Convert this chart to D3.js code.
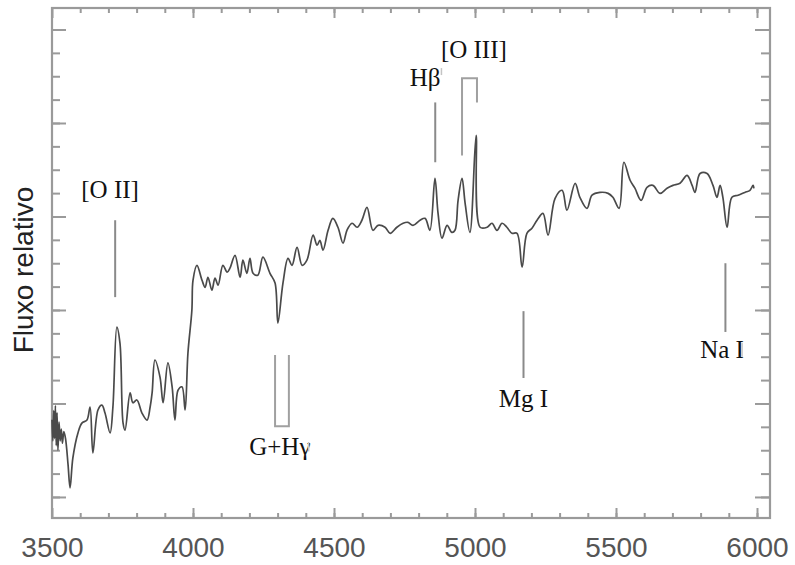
<!DOCTYPE html>
<html><head><meta charset="utf-8">
<script src="https://cdn.jsdelivr.net/npm/d3@7"></script>
<style>
html,body{margin:0;padding:0;background:#fff;}
svg{display:block;}
</style></head>
<body>
<svg id="chart" width="795" height="565"></svg>
<script>
// ---- data ----
const wavelength = [3500,3503,3506,3509,3512,3515,3518,3521,3525,3529,3533,3537,3542,3548,3557,3564,3574,3592,3606,3624,3635,3645,3663,3677,3688,3706,3716,3730,3741,3752,3759,3777,3787,3801,3819,3837,3848,3855,3865,3883,3894,3911,3926,3936,3947,3961,3972,3982,3996,4000,4014,4032,4043,4053,4067,4078,4089,4106,4121,4131,4149,4167,4177,4191,4202,4213,4230,4248,4273,4291,4301,4319,4337,4351,4369,4387,4404,4426,4440,4450,4461,4479,4496,4514,4532,4546,4564,4582,4599,4617,4638,4656,4681,4699,4723,4745,4762,4780,4805,4823,4840,4858,4869,4883,4901,4918,4929,4940,4954,4965,4982,5004,5018,5043,5060,5078,5096,5113,5131,5149,5167,5184,5202,5220,5241,5259,5284,5309,5326,5355,5372,5397,5415,5443,5472,5489,5511,5528,5550,5567,5589,5610,5631,5656,5681,5702,5727,5752,5770,5780,5798,5823,5844,5858,5869,5879,5894,5911,5933,5957,5975,5986,5989];
const flux = [4.3,3.4,4.7,3.5,4.9,3.2,4.6,3.0,4.2,3.4,3.9,3.3,3.8,3.5,2.37,1.39,2.67,3.74,4.16,4.29,4.85,2.88,4.72,4.93,4.59,3.74,4.85,8.27,7.58,4.16,3.86,5.45,5.03,5.15,4.59,4.29,4.85,5.45,6.86,6.13,5.03,6.74,5.71,4.29,5.57,5.71,4.72,7.15,8.99,10.27,10.91,10.27,9.97,10.40,9.85,10.36,10.06,10.91,10.62,10.79,11.34,10.40,11.13,10.57,11.21,10.57,10.49,11.26,10.57,10.15,8.44,10.15,11.21,10.91,11.68,10.91,11.13,12.20,11.77,11.98,11.56,12.41,12.92,12.54,11.86,12.41,12.71,12.54,12.84,13.39,12.41,12.62,12.54,12.28,12.54,12.71,12.75,12.62,12.84,12.92,12.41,14.63,13.13,12.07,12.62,12.32,12.41,13.69,14.63,13.56,12.32,16.47,12.54,12.54,12.71,12.41,12.71,12.54,12.28,12.28,10.83,12.28,12.50,12.84,13.13,12.20,13.78,14.12,13.27,14.42,13.82,13.35,13.91,14.03,13.99,13.82,13.35,15.32,14.55,14.21,13.69,14.25,14.33,13.99,14.21,14.33,14.42,14.76,14.33,14.03,14.84,14.84,14.33,13.82,14.33,13.82,12.54,13.82,13.91,14.03,14.12,14.33,14.2];
const xTickLabels = [3500,4000,4500,5000,5500,6000];
const xMinorTicks = d3.range(3600, 6001, 100);
const yMinorTicks = d3.range(1, 22, 1);
const yMajorTicks = [1,5,9,13,17,21];
const yAxisTitle = "Fluxo relativo";
// single-line markers: label, wavelength of line, flux range of line, label wavelength, label flux
const lineMarks = [
  {label:"[O II]", wl:3724, f0:9.55, f1:12.84, lwl:3706, lf:13.78},
  {label:"Hβ",     wl:4859, f0:15.32, f1:17.88, lwl:4823, lf:18.60},
  {label:"Mg I",   wl:5172, f0:6.09, f1:8.95, lwl:5172, lf:4.85},
  {label:"Na I",   wl:5888, f0:8.06, f1:11.0, lwl:5876, lf:6.94}
];
// bracket markers
const bracketMarks = [
  {label:"[O III]", wl0:4954, wl1:5007, fJoin:18.91, f0:15.61, f1:17.88, lwl:4996, lf:19.80},
  {label:"G+Hγ",   wl0:4291, wl1:4340, fJoin:4.03, f0:7.07, f1:7.07, lwl:4308, lf:2.80}
];
// faint scan specks next to some labels: wavelength, flux top, flux bottom
const specks = [
  {wl:4881, f0:19.05, f1:19.35},
  {wl:4410, f0:2.95, f1:3.35},
  {wl:5947, f0:7.0, f1:7.6}
];

// ---- drawing ----
const svg = d3.select("#chart");
const L=52, R=770, T=8, B=518;
const x = d3.scaleLinear().domain([3500, 3500 + (R-L)*500/141]).range([L, R]);
const y = d3.scaleLinear().domain([0.1, 21.92]).range([B, T]);
const frameCol = "#9a9a9a";

// axes: bottom
const bMinor = svg.append("g").attr("transform",`translate(0,${B})`)
  .call(d3.axisBottom(x).tickValues(xMinorTicks).tickSize(-5).tickFormat(""));
const bMajor = svg.append("g").attr("transform",`translate(0,${B})`)
  .call(d3.axisBottom(x).tickValues(xTickLabels).tickSize(-10).tickPadding(19).tickFormat(d3.format("d")));
// top
svg.append("g").attr("transform",`translate(0,${T})`)
  .call(d3.axisTop(x).tickValues(xMinorTicks).tickSize(-5).tickFormat(""));
svg.append("g").attr("transform",`translate(0,${T})`)
  .call(d3.axisTop(x).tickValues(xTickLabels).tickSize(-10).tickFormat(""));
// left
svg.append("g").attr("transform",`translate(${L},0)`)
  .call(d3.axisLeft(y).tickValues(yMinorTicks).tickSize(-8).tickFormat(""));
svg.append("g").attr("transform",`translate(${L},0)`)
  .call(d3.axisLeft(y).tickValues(yMajorTicks).tickSize(-14).tickFormat(""));
// right
svg.append("g").attr("transform",`translate(${R},0)`)
  .call(d3.axisRight(y).tickValues(yMinorTicks).tickSize(-9).tickFormat(""));
svg.append("g").attr("transform",`translate(${R},0)`)
  .call(d3.axisRight(y).tickValues(yMajorTicks).tickSize(-15).tickFormat(""));

svg.selectAll(".domain").remove();
svg.selectAll(".tick line").attr("stroke", frameCol).attr("stroke-width", 2);
bMajor.selectAll(".tick text")
  .attr("font-family","Liberation Sans, Arial, sans-serif")
  .attr("font-size", 28).attr("fill","#555");

// frame
svg.append("rect").attr("x",L).attr("y",T).attr("width",R-L).attr("height",B-T)
  .attr("fill","none").attr("stroke",frameCol).attr("stroke-width",2.2);

// spectrum
const pts = wavelength.map((w,i)=>[w, flux[i]]);
svg.append("path").datum(pts)
  .attr("d", d3.line().curve(d3.curveCatmullRom.alpha(0.5)).x(d=>x(d[0])).y(d=>y(d[1])))
  .attr("fill","none").attr("stroke","#4a4a4a").attr("stroke-width",1.7)
  .attr("stroke-linejoin","round");

// annotations
const serif = "Liberation Serif, Times New Roman, serif";
lineMarks.forEach(m=>{
  svg.append("line").attr("x1",x(m.wl)).attr("x2",x(m.wl))
    .attr("y1",y(m.f0)).attr("y2",y(m.f1))
    .attr("stroke","#8a8a8a").attr("stroke-width",2);
  svg.append("text").attr("x",x(m.lwl)).attr("y",y(m.lf))
    .attr("text-anchor","middle").attr("font-family",serif).attr("font-size",25)
    .attr("fill","#111").text(m.label);
});
bracketMarks.forEach(m=>{
  const p = d3.path();
  p.moveTo(x(m.wl0), y(m.f0));
  p.lineTo(x(m.wl0), y(m.fJoin));
  p.lineTo(x(m.wl1), y(m.fJoin));
  p.lineTo(x(m.wl1), y(m.f1));
  svg.append("path").attr("d", p.toString()).attr("fill","none")
    .attr("stroke","#a0a0a0").attr("stroke-width",2);
  svg.append("text").attr("x",x(m.lwl)).attr("y",y(m.lf))
    .attr("text-anchor","middle").attr("font-family",serif).attr("font-size",25)
    .attr("fill","#111").text(m.label);
});
specks.forEach(s=>{
  svg.append("line").attr("x1",x(s.wl)).attr("x2",x(s.wl))
    .attr("y1",y(s.f0)).attr("y2",y(s.f1))
    .attr("stroke","#c4c4c4").attr("stroke-width",1.5);
});

// y title
svg.append("text").attr("transform",`translate(33,270) rotate(-90)`)
  .attr("text-anchor","middle").attr("font-family","Liberation Sans, Arial, sans-serif")
  .attr("font-size",28).attr("fill","#222").text(yAxisTitle);
</script>
</body></html>
